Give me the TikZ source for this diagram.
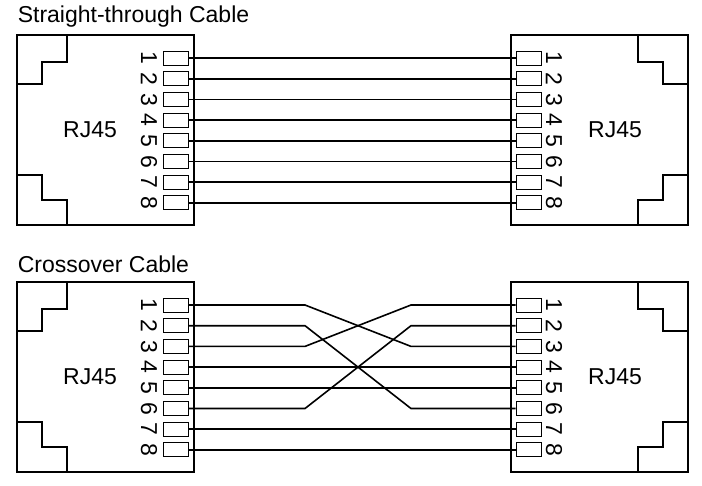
\documentclass[tikz,border=0pt]{standalone}
\usepackage{fontspec}
\setmainfont{Liberation Sans}
\begin{document}
\begin{tikzpicture}[x=1pt,y=-1pt,line width=1.6pt,
  pin/.style={draw,line width=1pt,minimum width=25pt,minimum height=14pt,inner sep=0,anchor=center},
  num/.style={font=\fontsize{23}{23}\selectfont,rotate=-90,inner sep=0},
  lbl/.style={font=\fontsize{23}{23}\selectfont},
  ttl/.style={font=\fontsize{23}{23}\selectfont,anchor=west,inner sep=0},
  wire/.style={line width=1.6pt}]
\useasboundingbox (0,0) rectangle (702,485);
\node[ttl] (t1) at (17,17) {Straight-through Cable};
\node[ttl] (t2) at (17,264) {Crossover Cable};
\foreach \oy/\nm in {0/a,247/b}{
  \begin{scope}[yshift=-\oy pt]
  \draw (17,35) rectangle (194,225);
  \draw (511,35) rectangle (688,225);
  \draw (67,35) -- (67,62) -- (42,62) -- (42,84) -- (17,84);
  \draw (17,175) -- (42,175) -- (42,200) -- (67,200) -- (67,225);
  \draw (638,35) -- (638,62) -- (663,62) -- (663,84) -- (688,84);
  \draw (688,175) -- (663,175) -- (663,200) -- (638,200) -- (638,225);
  \node[lbl] (rl\nm) at (90,130) {RJ45};
  \node[lbl] (rr\nm) at (615,130) {RJ45};
  \foreach \i in {1,...,8}{
    \pgfmathsetmacro{\yy}{58+(\i-1)*20.7}
    \node[pin] (L\nm\i) at (175.5,\yy) {};
    \node[pin] (R\nm\i) at (528.5,\yy) {};
    \node[num] (nl\nm\i) at (149,\yy) {\i};
    \node[num] (nr\nm\i) at (554,\yy) {\i};
  }
  \end{scope}
}
\foreach \i in {1,...,8}{\draw[wire] (La\i.east) -- (Ra\i.west);}
\foreach \i in {4,5,7,8}{\draw[wire] (Lb\i.east) -- (Rb\i.west);}
\foreach \a/\b in {1/3,2/6,3/1,6/2}{
  \draw[wire] (Lb\a.east) -- (Lb\a.east -| 305,0) -- (Rb\b.west -| 411,0) -- (Rb\b.west);
}
\end{tikzpicture}
\end{document}
